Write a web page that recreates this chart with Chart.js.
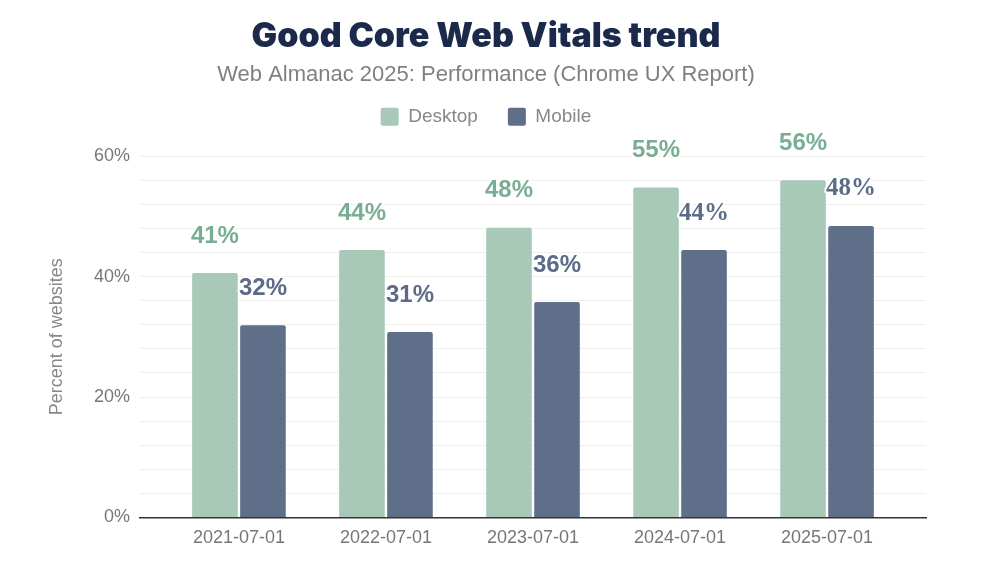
<!DOCTYPE html>
<html><head><meta charset="utf-8">
<script src="https://cdn.jsdelivr.net/npm/chart.js@4.4.1/dist/chart.umd.min.js"></script>
<style>html,body{margin:0;padding:0;background:#fff;} #wrap{width:988px;height:573px;position:relative;}</style>
</head><body><div id="wrap"><canvas id="c"></canvas></div>
<script>
const categories = ['2021-07-01', '2022-07-01', '2023-07-01', '2024-07-01', '2025-07-01'];
const desktopValues = [40.6, 44.4, 48.1, 54.8, 56.0];
const mobileValues = [31.9, 30.8, 35.8, 44.4, 48.4];
const yLabeledTicks = [0, 20, 40, 60];
const seriesNames = ['Desktop', 'Mobile'];

const valueLabels = {
  id: 'valueLabels',
  afterDatasetsDraw(chart, args, opts) {
    const ctx = chart.ctx;
    chart.data.datasets.forEach((ds, di) => {
      const meta = chart.getDatasetMeta(di);
      meta.data.forEach((el, i) => {
        const txt = Math.round(ds.data[i].y) + '%';
        const serif = (opts.serif[di] || []).includes(i);
        ctx.save();
        ctx.font = serif ? 'bold 25px "Liberation Serif"' : 'bold 24px "Liberation Sans"';
        ctx.textAlign = 'center';
        ctx.textBaseline = 'middle';
        ctx.lineJoin = 'round';
        ctx.lineWidth = 4;
        ctx.strokeStyle = '#ffffff';
        ctx.strokeText(txt, el.x, el.y - opts.offset);
        ctx.fillStyle = opts.colors[di];
        ctx.fillText(txt, el.x, el.y - opts.offset);
        ctx.restore();
      });
    });
  }
};

const legendGap = {
  id: 'legendGap',
  beforeLayout(chart, args, opts) {
    const lg = chart.legend;
    if (lg && !lg.__gapPatched) {
      const origFit = Object.getPrototypeOf(lg).fit;
      lg.fit = function () { origFit.call(this); this.height += opts.extra; };
      lg.__gapPatched = true;
    }
  }
};

new Chart(document.getElementById('c'), {
  type: 'bar',
  data: {
    datasets: [
      { label: seriesNames[0], data: desktopValues.map((v, i) => ({x: i, y: v})),
        backgroundColor: '#a8c9b8', borderRadius: 2, categoryPercentage: 0.653, barPercentage: 0.95 },
      { label: seriesNames[1], data: mobileValues.map((v, i) => ({x: i, y: v})),
        backgroundColor: '#5f6f8a', borderRadius: 2, categoryPercentage: 0.653, barPercentage: 0.95 }
    ]
  },
  options: {
    responsive: true,
    maintainAspectRatio: false,
    animation: false,
    layout: { padding: { left: 0, right: 16, top: 0, bottom: 22 } },
    plugins: {
      title: { display: true, text: 'Good Core Web Vitals trend', color: '#1b2a4a',
        font: { family: 'Inter', weight: 900, size: 34 }, padding: { top: 16, bottom: 3 } },
      subtitle: { display: true, text: 'Web Almanac 2025: Performance (Chrome UX Report)', color: '#808080',
        font: { family: 'Liberation Sans', size: 22 }, padding: { top: 2, bottom: -11 } },
      legend: { position: 'top', labels: { boxWidth: 18, boxHeight: 18, padding: 30, color: '#888',
        useBorderRadius: true, borderRadius: 2, font: { family: 'Liberation Sans', size: 19 } } },
      legendGap: { extra: 20 },
      tooltip: { enabled: false },
      valueLabels: { offset: 37, colors: ['#7aae94', '#5c6b88'], serif: [[], [3, 4]] }
    },
    scales: {
      x: {
        type: 'linear', min: -0.673, max: 4.673, offset: false,
        grid: { display: false },
        border: { display: true, color: '#333', width: 1.5 },
        ticks: { stepSize: 1, includeBounds: false, autoSkip: false, maxRotation: 0, padding: 2,
          color: '#777', font: { family: 'Liberation Sans', size: 18 },
          callback: v => (Number.isInteger(v) && categories[v]) ? categories[v] : '' }
      },
      y: {
        min: 0, max: 60,
        grid: { color: '#efefef', drawTicks: false },
        border: { display: false },
        afterFit: s => { s.width = 140; },
        title: { display: true, text: 'Percent of websites', color: '#888',
          font: { family: 'Liberation Sans', size: 18 }, padding: { top: 46, bottom: 0 } },
        ticks: { stepSize: 4, autoSkip: false, padding: 10, color: '#777',
          font: { family: 'Liberation Sans', size: 18 },
          callback: v => yLabeledTicks.includes(v) ? v + '%' : '' }
      },
      yRight: {
        position: 'right', min: 0, max: 1,
        grid: { display: false, drawTicks: false },
        border: { display: false },
        ticks: { display: false },
        afterFit: s => { s.width = 46; }
      }
    }
  },
  plugins: [valueLabels, legendGap]
});
</script></body></html>
